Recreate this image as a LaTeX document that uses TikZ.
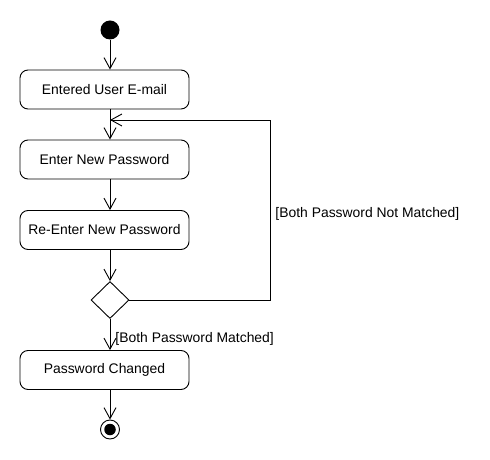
\documentclass[tikz,border=0pt]{standalone}
\usepackage{fontspec}
\setmainfont{Liberation Sans}
\usetikzlibrary{arrows.meta,shapes.geometric}
\begin{document}
\begin{tikzpicture}[x=1bp,y=-1bp,line width=0.9bp,
  every node/.style={font=\fontsize{13.9bp}{16bp}\selectfont},
  act/.style={draw,rounded corners=8bp,minimum width=169bp,minimum height=39bp,inner sep=0pt},
  arr/.style={-{Straight Barb[length=11bp,width=12bp,line width=0.9bp]}},
  lbl/.style={anchor=west,inner sep=0pt}]
\useasboundingbox (0,0) rectangle (490,460);
\node[circle,fill=black,minimum size=19bp,inner sep=0pt] (start) at (110,30) {};
\node[act] (b1) at (104.5,89.5) {Entered User E-mail};
\node[act] (b2) at (104.5,159.5) {Enter New Password};
\node[act] (b3) at (104.5,230) {Re-Enter New Password};
\node[diamond,draw,fill=white,minimum width=38bp,minimum height=37bp,inner sep=0pt] (dec) at (110,300) {};
\node[act] (b4) at (104.5,370) {Password Changed};
\node[circle,draw,fill=white,minimum size=19bp,inner sep=0pt] (end) at (110,429.5) {};
\node[circle,fill=black,minimum size=11.5bp,inner sep=0pt] at (end) {};
\coordinate (merge) at (110,120);
\coordinate (corner1) at (270,300);
\coordinate (corner2) at (270,120);
\draw[arr] (start) -- (b1.north -| start);
\draw (b1.south -| start) -- (merge);
\draw[arr] (merge) -- (b2.north -| start);
\draw[arr] (b2.south -| start) -- (b3.north -| start);
\draw[arr] (b3.south -| start) -- (dec.north);
\draw[arr] (dec.south) -- (b4.north -| start);
\draw[arr] (b4.south -| start) -- (end.north);
\draw[arr] (dec.east) -- (corner1) -- (corner2) -- (merge);
\node[lbl] (l1) at (115,338.5) {[Both Password Matched]};
\node[lbl] (l2) at (275,213.5) {[Both Password Not Matched]};
\end{tikzpicture}
\end{document}
